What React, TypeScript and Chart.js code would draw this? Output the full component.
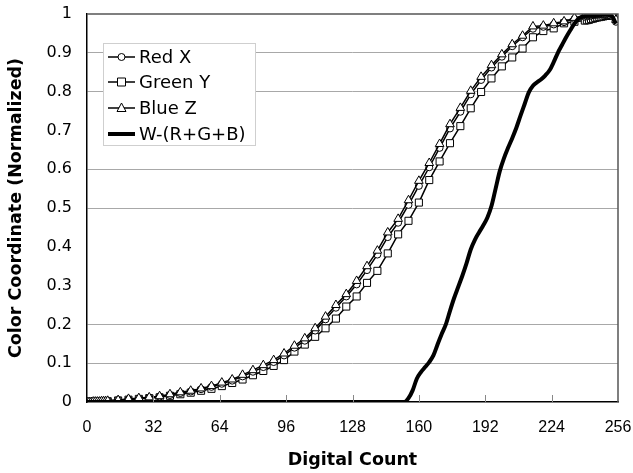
import React, { useEffect, useRef } from "react";
import { Chart, registerables } from "chart.js";

Chart.register(...registerables);

const markerDN = [
  0, 1, 2, 3, 4, 5, 6, 7, 8, 9,
  10, 15, 20, 25, 30, 35, 40, 45, 50, 55,
  60, 65, 70, 75, 80, 85, 90, 95, 100, 105,
  110, 115, 120, 125, 130, 135, 140, 145, 150, 155,
  160, 165, 170, 175, 180, 185, 190, 195, 200, 205,
  210, 215, 220, 225, 230, 235, 240,
  241, 242, 243, 244, 245, 246, 247, 248, 249, 250, 251, 252, 253, 254, 255,
];

const redX = [
  0, 0, 0, 0, 0.001, 0.001, 0.001, 0.001, 0.002, 0.002,
  0.003, 0.005, 0.007, 0.009, 0.011, 0.014, 0.018, 0.023, 0.027, 0.033,
  0.039, 0.047, 0.055, 0.066, 0.078, 0.09, 0.103, 0.12, 0.14, 0.158,
  0.184, 0.213, 0.243, 0.272, 0.303, 0.34, 0.38, 0.425, 0.462, 0.508,
  0.557, 0.605, 0.655, 0.705, 0.748, 0.793, 0.83, 0.862, 0.89, 0.917,
  0.94, 0.962, 0.967, 0.973, 0.979, 0.987, 0.993,
  0.994, 0.995, 0.996, 0.997, 0.998, 0.998, 0.999, 0.999, 0.998, 0.997, 0.996, 0.996, 0.995, 0.992, 0.98,
];

const greenY = [
  0, 0, 0, 0, 0, 0.001, 0.001, 0.001, 0.001, 0.002,
  0.002, 0.004, 0.006, 0.008, 0.01, 0.012, 0.016, 0.02, 0.024, 0.029,
  0.034, 0.041, 0.049, 0.058, 0.069, 0.08, 0.093, 0.108, 0.13, 0.148,
  0.168, 0.19, 0.215, 0.246, 0.272, 0.307, 0.338, 0.383, 0.432, 0.467,
  0.514, 0.572, 0.62, 0.667, 0.711, 0.757, 0.799, 0.834, 0.865, 0.888,
  0.911, 0.94, 0.956, 0.963, 0.976, 0.98, 0.983,
  0.984, 0.985, 0.987, 0.988, 0.99, 0.991, 0.992, 0.993, 0.994, 0.995, 0.995, 0.996, 0.996, 0.995, 0.99,
];

const blueZ = [
  0, 0, 0, 0.001, 0.001, 0.001, 0.001, 0.002, 0.002, 0.002,
  0.003, 0.005, 0.008, 0.01, 0.012, 0.015, 0.02, 0.025, 0.029, 0.035,
  0.041, 0.05, 0.058, 0.07, 0.082, 0.095, 0.108, 0.125, 0.145, 0.164,
  0.19, 0.22, 0.25, 0.278, 0.312, 0.35, 0.39, 0.437, 0.472, 0.52,
  0.57, 0.616, 0.665, 0.716, 0.758, 0.802, 0.838, 0.868, 0.896, 0.922,
  0.944, 0.968, 0.97, 0.976, 0.981, 0.99, 0.996,
  0.997, 0.997, 0.998, 0.998, 0.999, 0.999, 1.0, 1.0, 0.999, 0.998, 0.997, 0.997, 0.996, 0.994, 0.985,
];

const wDN = [
  0, 150, 153, 155, 157, 159, 161, 163, 165, 167, 169, 171, 173, 175, 177, 179,
  181, 183, 185, 187, 189, 191, 193, 195, 197, 199, 201, 203, 205, 207, 209,
  211, 213, 215, 217, 219, 221, 223, 225, 227, 229, 231, 233, 235, 237, 240,
  245, 250, 253, 255,
];

const wValues = [
  0, 0, 0, 0.01, 0.03, 0.06, 0.077, 0.09, 0.103, 0.12, 0.148, 0.175, 0.2, 0.235, 0.268, 0.297,
  0.326, 0.358, 0.393, 0.418, 0.437, 0.455, 0.475, 0.505, 0.55, 0.595, 0.628, 0.655, 0.68, 0.707, 0.738,
  0.768, 0.798, 0.815, 0.824, 0.832, 0.842, 0.855, 0.876, 0.9, 0.92, 0.94, 0.958, 0.975, 0.988, 0.995,
  0.997, 0.998, 0.995, 0.975,
];

const xTicks = [0, 32, 64, 96, 128, 160, 192, 224, 256];
const hiddenGrid = [0.3, 0.4, 0.7];

const legendItems = [
  { label: "Red X", marker: "circle" },
  { label: "Green Y", marker: "rect" },
  { label: "Blue Z", marker: "triangle" },
  { label: "W-(R+G+B)", marker: "none" },
];

function drawMarker(ctx: CanvasRenderingContext2D, kind: string, x: number, y: number) {
  ctx.save();
  ctx.fillStyle = "#fff";
  ctx.strokeStyle = "#000";
  ctx.lineWidth = 1;
  ctx.beginPath();
  if (kind === "circle") {
    ctx.arc(x, y, 3.5, 0, Math.PI * 2);
  } else if (kind === "rect") {
    ctx.rect(x - 4, y - 4, 8, 8);
  } else if (kind === "triangle") {
    ctx.moveTo(x, y - 5);
    ctx.lineTo(x + 4.5, y + 3.5);
    ctx.lineTo(x - 4.5, y + 3.5);
    ctx.closePath();
  }
  ctx.fill();
  ctx.stroke();
  ctx.restore();
}

const framePlugin = {
  id: "frameAndLegend",
  afterDraw(chart: any) {
    const { ctx, chartArea, scales } = chart;
    ctx.save();
    ctx.strokeStyle = "#555";
    ctx.lineWidth = 1.5;
    ctx.beginPath();
    ctx.moveTo(chartArea.left, chartArea.top);
    ctx.lineTo(chartArea.right, chartArea.top);
    ctx.lineTo(chartArea.right, chartArea.bottom);
    ctx.stroke();
    ctx.strokeStyle = "#888";
    ctx.lineWidth = 1;
    xTicks.slice(1, -1).forEach((v) => {
      const px = Math.round(scales.x.getPixelForValue(v)) + 0.5;
      ctx.beginPath();
      ctx.moveTo(px, chartArea.bottom);
      ctx.lineTo(px, chartArea.bottom - 7);
      ctx.stroke();
    });
    const bx = 103.5, by = 43.5, bw = 152, bh = 102;
    ctx.fillStyle = "#fff";
    ctx.fillRect(bx, by, bw, bh);
    ctx.strokeStyle = "#cfcfcf";
    ctx.lineWidth = 1;
    ctx.strokeRect(bx, by, bw, bh);
    const rows = [57, 82, 108, 134];
    legendItems.forEach((item, i) => {
      const y = rows[i];
      ctx.strokeStyle = "#000";
      ctx.lineWidth = item.marker === "none" ? 4 : 1.5;
      ctx.beginPath();
      ctx.moveTo(108, y);
      ctx.lineTo(135, y);
      ctx.stroke();
      if (item.marker !== "none") drawMarker(ctx, item.marker, 121.5, y);
      ctx.fillStyle = "#000";
      ctx.font = '18px "DejaVu Sans"';
      ctx.textBaseline = "middle";
      ctx.textAlign = "left";
      ctx.fillText(item.label, 139, y + 1);
    });
    ctx.restore();
  },
};

export default function App() {
  const canvasRef = useRef<HTMLCanvasElement | null>(null);

  useEffect(() => {
    const canvas = canvasRef.current;
    if (!canvas) return;
    const toPts = (xs: number[], ys: number[]) => xs.map((x, i) => ({ x, y: ys[i] }));
    const chart = new Chart(canvas, {
      type: "line",
      data: {
        datasets: [
          {
            label: "Red X",
            data: toPts(markerDN, redX),
            borderColor: "#000",
            borderWidth: 1.5,
            backgroundColor: "#fff",
            pointStyle: "circle",
            pointRadius: 3.5,
            pointBorderWidth: 1,
            pointBorderColor: "#000",
            pointBackgroundColor: "#fff",
            tension: 0,
            order: 2,
          },
          {
            label: "Green Y",
            data: toPts(markerDN, greenY),
            borderColor: "#000",
            borderWidth: 1.5,
            backgroundColor: "#fff",
            pointStyle: "rect",
            pointRadius: 5,
            pointBorderWidth: 1,
            pointBorderColor: "#000",
            pointBackgroundColor: "#fff",
            tension: 0,
            order: 3,
          },
          {
            label: "Blue Z",
            data: toPts(markerDN, blueZ),
            borderColor: "#000",
            borderWidth: 1.5,
            backgroundColor: "#fff",
            pointStyle: "triangle",
            pointRadius: 5,
            pointBorderWidth: 1,
            pointBorderColor: "#000",
            pointBackgroundColor: "#fff",
            tension: 0,
            order: 1,
          },
          {
            label: "W-(R+G+B)",
            data: toPts(wDN, wValues),
            borderColor: "#000",
            borderWidth: 4,
            pointRadius: 0,
            tension: 0.4,
            cubicInterpolationMode: "monotone",
            order: 0,
          },
        ],
      },
      options: {
        responsive: false,
        animation: false,
        events: [],
        layout: { padding: { top: 14, right: 15, left: 0, bottom: 0 } },
        plugins: { legend: { display: false }, tooltip: { enabled: false } },
        scales: {
          x: {
            type: "linear",
            min: 0,
            max: 256,
            afterFit: (s: any) => {
              s.height = 71;
              s.paddingLeft = 0;
              s.paddingRight = 0;
            },
            afterBuildTicks: (s: any) => { s.ticks = xTicks.map((v) => ({ value: v })); },
            ticks: {
              color: "#000",
              padding: 16,
              maxRotation: 0,
              autoSkip: false,
              font: { family: '"Liberation Sans", Arial', size: 16 },
            },
            grid: { display: false, drawTicks: false },
            border: { display: true, color: "#000", width: 1.5 },
            title: {
              display: true,
              text: "Digital Count",
              color: "#000",
              font: { family: '"DejaVu Sans"', size: 17.5, weight: "bold" },
              padding: { top: 0, bottom: 2 },
            },
          },
          y: {
            type: "linear",
            min: 0,
            max: 1,
            afterFit: (s: any) => {
              s.width = 87;
              s.paddingTop = 0;
              s.paddingBottom = 0;
            },
            ticks: {
              stepSize: 0.1,
              color: "#000",
              padding: 15,
              font: { family: '"DejaVu Sans"', size: 16 },
              callback: (v: any) => String(Number(Number(v).toFixed(1))),
            },
            grid: {
              drawTicks: false,
              color: (c: any) => {
                const v = Math.round((c.tick?.value ?? 0) * 10) / 10;
                if (v === 0 || v === 1) return "rgba(0,0,0,0)";
                return hiddenGrid.includes(v) ? "rgba(0,0,0,0)" : "#a8a8a8";
              },
              lineWidth: 1,
            },
            border: { display: true, color: "#000", width: 1.5 },
            title: {
              display: true,
              text: "Color Coordinate (Normalized)",
              color: "#000",
              font: { family: '"DejaVu Sans"', size: 17.5, weight: "bold" },
              padding: { top: 6, bottom: 0 },
            },
          },
        },
      },
      plugins: [framePlugin],
    } as any);
    return () => chart.destroy();
  }, []);

  return (
    <div style={{ position: "absolute", left: 0, top: 0, width: 633, height: 473, background: "#fff" }}>
      <canvas ref={canvasRef} width={633} height={473} style={{ display: "block" }} />
    </div>
  );
}
